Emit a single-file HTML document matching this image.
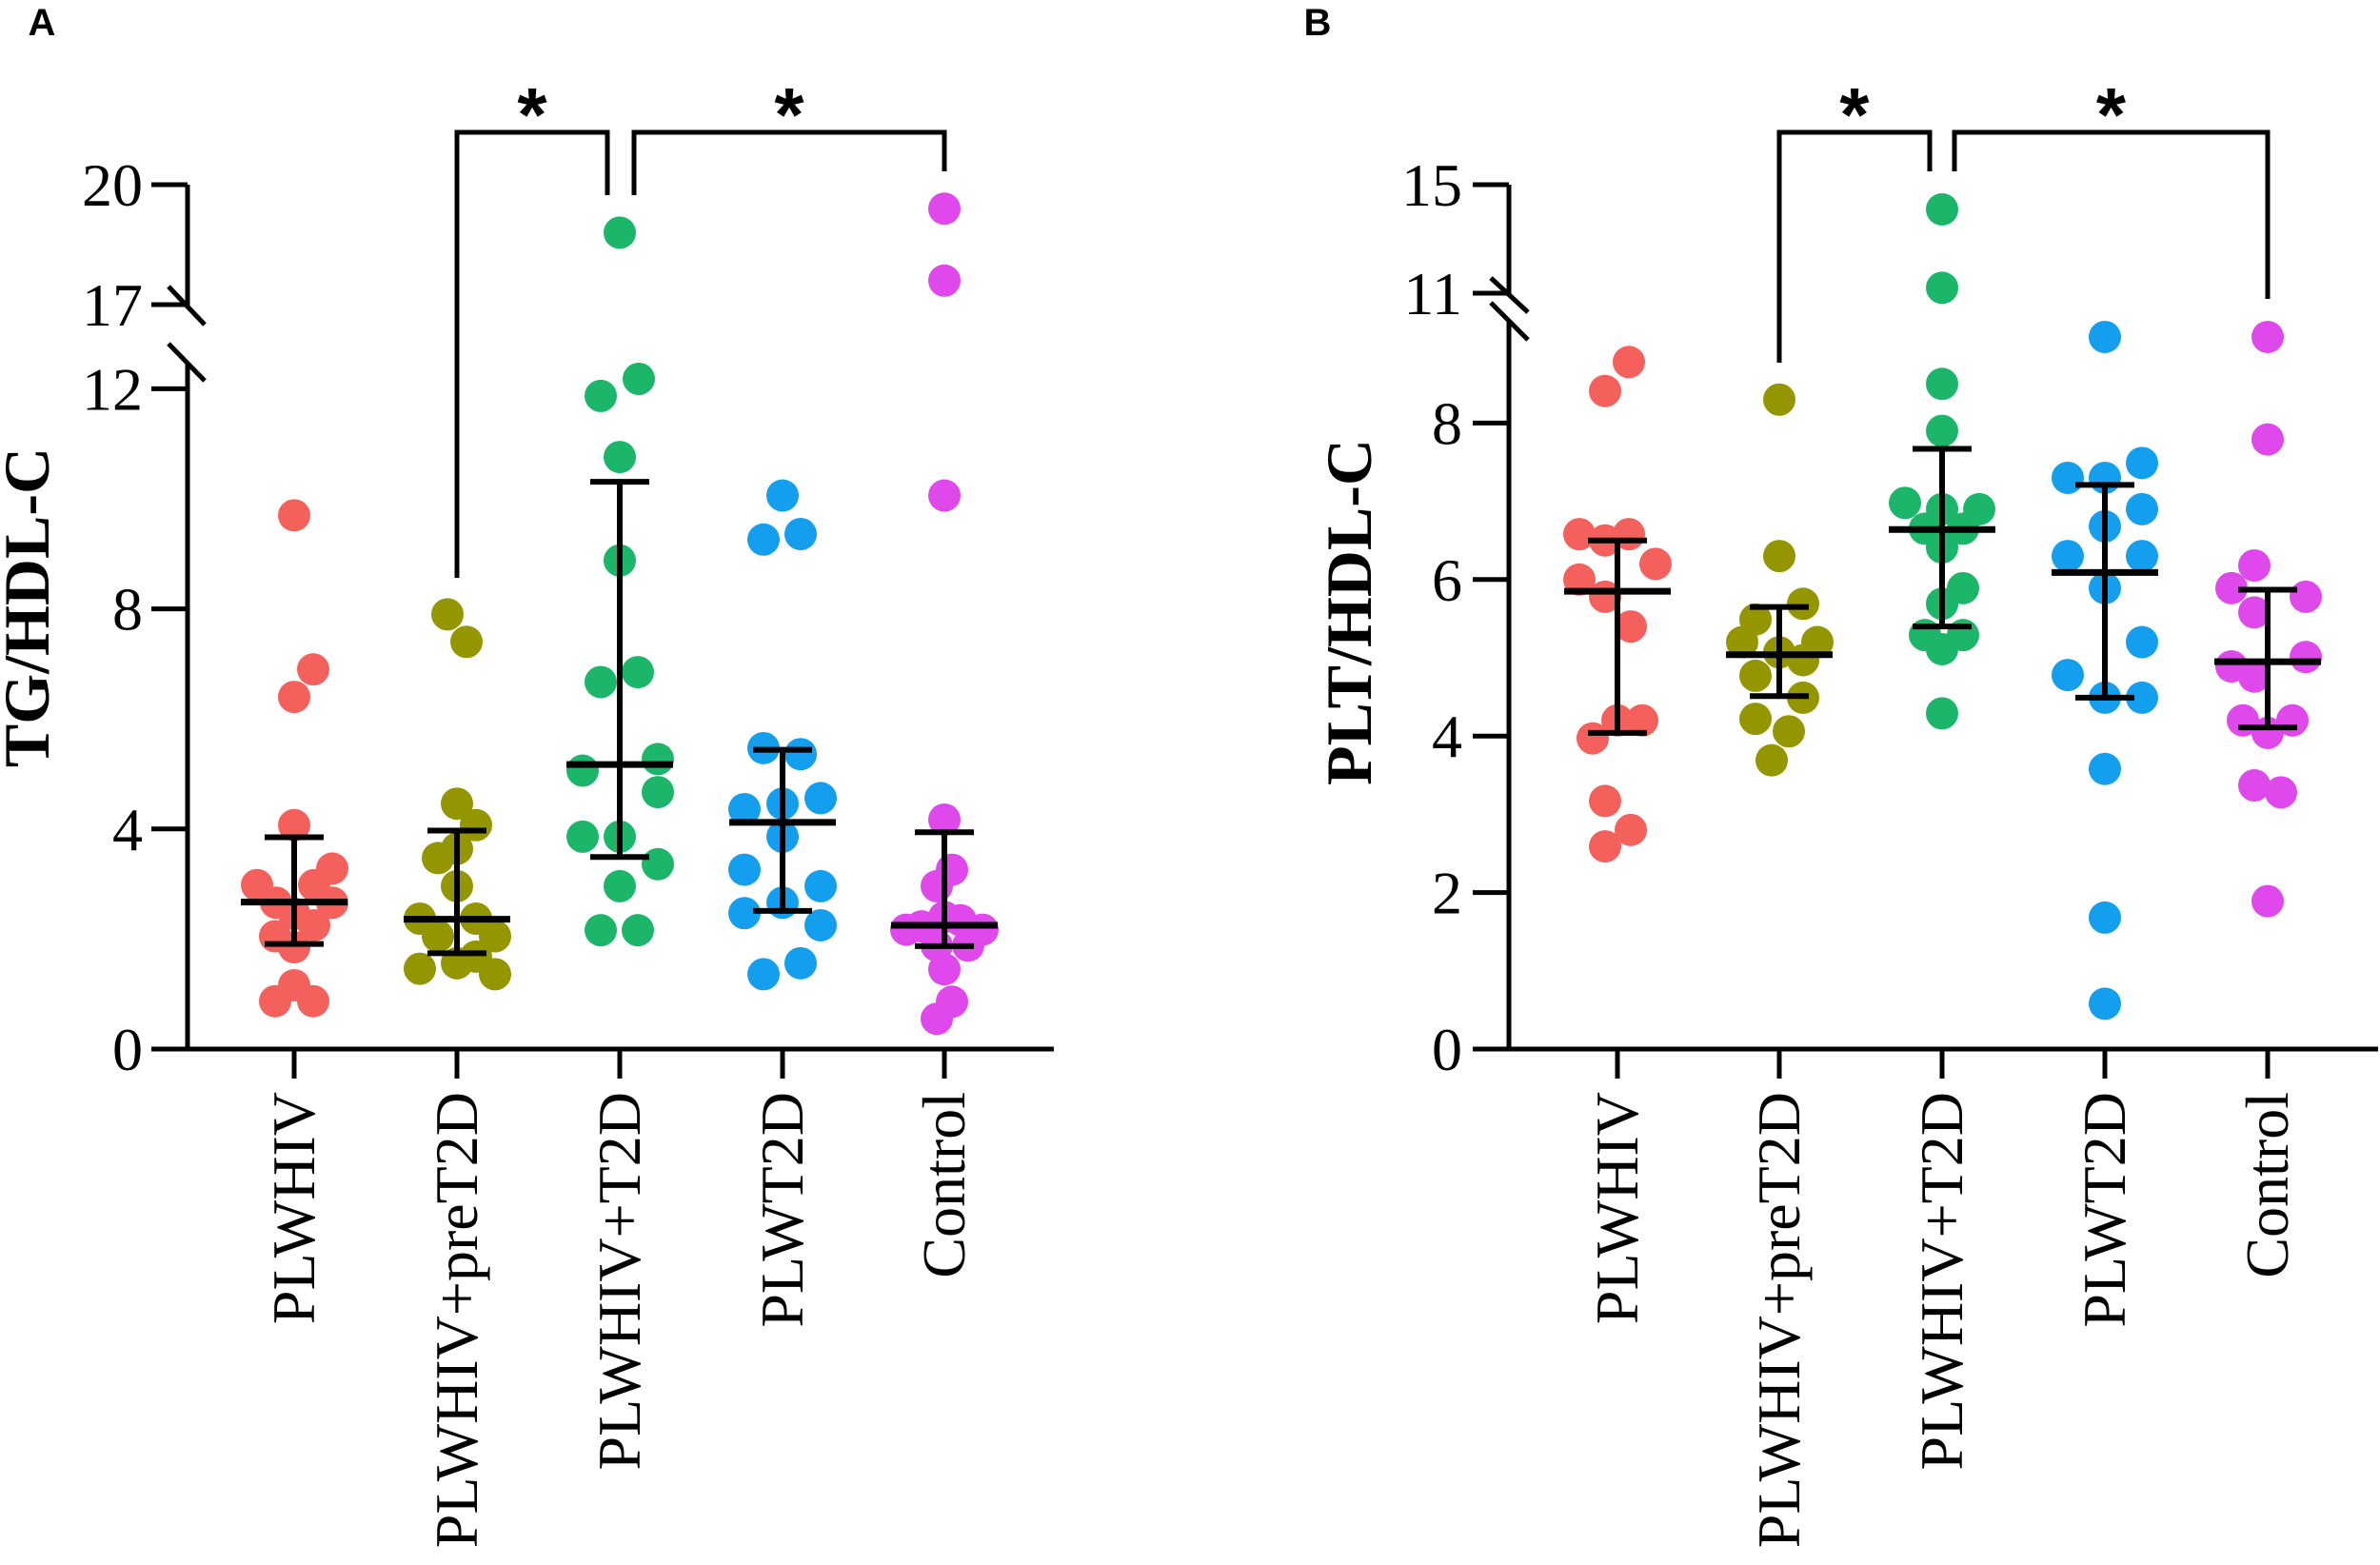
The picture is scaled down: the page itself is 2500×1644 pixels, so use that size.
<!DOCTYPE html>
<html><head><meta charset="utf-8"><style>
html,body{margin:0;padding:0;background:#fff;}
svg{display:block;}
</style></head><body>
<svg id="chart" width="2500" height="1644" viewBox="0 0 2500 1644" xmlns="http://www.w3.org/2000/svg"></svg>
<script>
const categories = ["PLWHIV","PLWHIV+preT2D","PLWHIV+T2D","PLWT2D","Control"];
const colors = ["#F4605B","#949600","#1BB66A","#149EEE","#DF48EB"];
// Panel A TG/HDL-C values per group
const tgPLWHIV = [9.7,6.9,6.4,4.07,2.98,3.28,2.98,2.66,2.66,2.46,2.25,2.05,1.85,1.16,0.87,0.87];
const tgPreT2D = [7.9,7.4,4.46,4.07,3.64,3.47,2.96,2.37,2.37,2.05,2.05,1.56,1.68,1.46,1.36];
const tgT2D = [18.8,12.18,11.87,10.76,8.88,6.67,6.85,5.06,5.27,4.67,3.86,3.86,3.36,2.96,2.16,2.16];
const tgPLWT2D = [10.06,9.26,9.36,5.47,5.36,4.36,4.46,4.56,3.86,3.26,2.96,2.47,2.66,2.25,1.36,1.56];
const tgControl = [19.4,17.6,10.06,4.17,3.26,2.96,2.40,2.34,2.23,2.17,2.17,1.88,1.88,1.45,0.86,0.55];
const tgMedian = [2.67,2.36,5.17,4.12,2.25];
const tgUpper = [3.85,3.97,10.31,5.44,3.94];
const tgLower = [1.91,1.74,3.49,2.51,1.87];
// Panel B PLT/HDL-C values per group
const pltPLWHIV = [8.78,8.41,6.58,6.50,6.58,6.2,6.0,5.78,5.4,4.2,4.2,3.97,3.17,2.8,2.59];
const pltPreT2D = [8.3,6.3,5.69,5.49,5.2,5.2,5.07,4.77,4.97,4.49,4.22,4.06,3.69];
const pltT2D = [14.09,11.2,8.5,7.9,6.98,6.9,6.9,6.65,6.65,6.41,5.89,5.69,5.29,5.29,5.11,4.29];
const pltPLWT2D = [9.1,7.3,7.3,7.49,6.68,6.9,6.3,6.3,5.89,5.2,4.78,4.49,4.49,3.58,1.68,0.58];
const pltControl = [9.1,7.79,6.18,5.89,5.78,5.58,4.89,5.01,4.76,4.2,4.2,4.04,3.37,3.28,1.89];
const pltMedian = [5.85,5.04,6.64,6.09,4.95];
const pltUpper = [6.50,5.65,7.67,7.21,5.87];
const pltLower = [4.04,4.51,5.40,4.49,4.11];
const tgTicks = [0,4,8,12,17,20];
const pltTicks = [0,2,4,6,8,11,15];
// horizontal jitter offsets (layout, not data)
const jitA = [
 [0,20,0,0,-39,40,21,-19,40,0,21,-20,0,0,-20,20],
 [-10,10,0,20,0,-20,0,-39,20,-20,40,0,20,-39,40],
 [0,20,-20,0,0,-20,19,-39,40,40,-39,0,40,0,-20,19],
 [0,-20,19,-20,19,-40,0,40,0,-40,40,-40,0,40,-20,19],
 [0,0,0,0,8,-8,0,17,-24,-40,40,25,-8,0,8,-8]];
const jitB = [
 [12,-13,-40,-13,12,40,-40,-13,14,26,0,-26,-13,14,-13],
 [0,0,25,-25,-39,40,0,-25,25,25,-25,10,-8],
 [0,0,0,0,-39,39,0,-18,22,0,22,0,-18,22,0,0],
 [0,-39,0,39,0,39,-39,39,0,39,-39,0,39,0,0,0],
 [0,0,-14,-38,40,-14,-38,40,-14,-26,26,0,-14,14,0]];

const svg = document.getElementById('chart');
const NS = 'http://www.w3.org/2000/svg';
function mk(tag, attrs, parent){
  const e = document.createElementNS(NS, tag);
  for (const k in attrs) e.setAttribute(k, attrs[k]);
  (parent||svg).appendChild(e);
  return e;
}
function line(x1,y1,x2,y2,w,name){
  const l = mk('line',{x1:x1,y1:y1,x2:x2,y2:y2,stroke:'#000','stroke-width':w});
  
  
  return l;
}
function text(x,y,s,attrs,name){
  const t = mk('text', Object.assign({x:x,y:y}, attrs));
  t.textContent = s;
  
  
  return t;
}

function panel(cfg){
  const g = mk('g',{});
  
  
  const y = cfg.yScale;
  const ax = cfg.axisX, base = 1102;
  // y axis segments
  line(ax, cfg.topY, ax, cfg.upperEnd, 5, 'y-axis-upper');
  line(ax, cfg.lowerStart, ax, base+2, 5, 'y-axis-lower');
  // break marks
  cfg.slashes.forEach(s => { line(s[0],s[1],s[2],s[3],5,'axis-break-mark'); });
  // x axis
  line(ax-2, base, cfg.axisEnd, base, 5, 'x-axis');
  // y ticks
  cfg.ticks.forEach(v => {
    const yy = y(v);
    line(ax-38, yy, ax, yy, 5, 'y-tick');
    text(cfg.labelRight, yy+22, String(v), {'font-family':'"Liberation Serif",serif','font-size':64,'text-anchor':'end'}, 'y-tick-label');
  });
  // y title
  const tt = text(0,0,cfg.title,{'font-family':'"Liberation Serif",serif','font-size':68,'font-weight':'bold','text-anchor':'middle',transform:`translate(${cfg.titleX},${cfg.titleY}) rotate(-90)`},'y-axis-title');
  // categories
  categories.forEach((c,i) => {
    const cx = cfg.cx[i];
    line(cx, base, cx, 1133, 5, 'x-tick');
    text(0,0,c,{'font-family':'"Liberation Serif",serif','font-size':64,'text-anchor':'end',transform:`translate(${cx+21},1147) rotate(-90)`},'x-tick-label');
    // dots
    cfg.data[i].forEach((v,j) => {
      const d = mk('circle',{cx:cx+(cfg.jit[i][j]||0), cy:y(v), r:17, fill:colors[i]}, g);
      
      
    });
  });
  categories.forEach((c,i) => {
    const cx = cfg.cx[i];
    line(cx, y(cfg.upper[i]), cx, y(cfg.lower[i]), 6, 'error-bar');
    line(cx-31, y(cfg.upper[i]), cx+31, y(cfg.upper[i]), 6, 'error-cap-upper');
    line(cx-31, y(cfg.lower[i]), cx+31, y(cfg.lower[i]), 6, 'error-cap-lower');
    line(cx-56, y(cfg.median[i]), cx+56, y(cfg.median[i]), 7, 'median-line');
  });
  // significance brackets
  cfg.brackets.forEach(b => {
    const p = mk('polyline',{points:`${b[0]},${b[1]} ${b[0]},139 ${b[2]},139 ${b[2]},${b[3]}`, fill:'none', stroke:'#000','stroke-width':5});
    
    
    text((b[0]+b[2])/2, 148, '*', {'font-family':'"Liberation Sans",sans-serif','font-size':80,'font-weight':'bold','text-anchor':'middle'}, 'significance-star');
  });
  text(cfg.letterX, 37, cfg.letter, {'font-family':'"Liberation Sans",sans-serif','font-size':40,'font-weight':'bold','text-anchor':'middle'}, 'panel-label');
}

function yA(v){ return v <= 12.5 ? 1102 - v*57.8 : 194 + (20 - v)*42; }
function yB(v){ return v <= 9.6 ? 1102 - v*82.2 : 194 + (15 - v)*28.5; }

panel({name:'panel-a', yScale:yA, axisX:197, topY:194, upperEnd:321, lowerStart:381, axisEnd:1107,
  slashes:[[177,301,215,341],[177,361,215,400]], ticks:tgTicks, labelRight:150,
  title:'TG/HDL-C', titleX:51, titleY:638, cx:[309,480,651,822,992],
  data:[tgPLWHIV,tgPreT2D,tgT2D,tgPLWT2D,tgControl], jit:jitA,
  median:tgMedian, upper:tgUpper, lower:tgLower,
  brackets:[[480,607,638,205],[666,205,992,180]], letter:'A', letterX:44});
panel({name:'panel-b', yScale:yB, axisX:1585, topY:194, upperEnd:310, lowerStart:338, axisEnd:2498,
  slashes:[[1566,292,1605,328],[1566,318,1605,357]], ticks:pltTicks, labelRight:1536,
  title:'PLT/HDL-C', titleX:1440, titleY:643, cx:[1699,1869,2040,2211,2382],
  data:[pltPLWHIV,pltPreT2D,pltT2D,pltPLWT2D,pltControl], jit:jitB,
  median:pltMedian, upper:pltUpper, lower:pltLower,
  brackets:[[1869,381,2027,180],[2053,180,2382,314]], letter:'B', letterX:1384});
</script>
</body></html>
